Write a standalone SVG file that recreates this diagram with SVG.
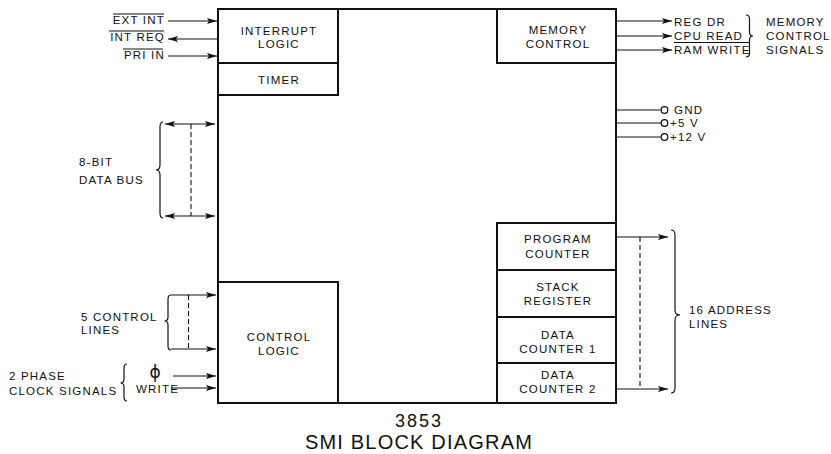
<svg xmlns="http://www.w3.org/2000/svg" width="831" height="454" viewBox="0 0 831 454">
<defs>
<marker id="ah" viewBox="0 0 10 6" refX="10" refY="3" markerWidth="10" markerHeight="6" markerUnits="userSpaceOnUse" orient="auto-start-reverse">
<path d="M0,0 L10,3 L0,6 L2,3 Z" fill="#111"/>
</marker>
</defs>
<style>
.box{fill:#fff;stroke:#111;stroke-width:2}
.inner{fill:none;stroke:#111;stroke-width:2}
.t{font-family:"Liberation Sans",Arial,sans-serif;font-size:11.5px;letter-spacing:1.2px;fill:#111}
.c{text-anchor:middle}
.e{text-anchor:end}
.w{fill:none;stroke:#111;stroke-width:1.2}
.a{fill:none;stroke:#111;stroke-width:1.2;marker-end:url(#ah)}
.ab{fill:none;stroke:#111;stroke-width:1.2;marker-end:url(#ah);marker-start:url(#ah)}
.d{fill:none;stroke:#111;stroke-width:1.1;stroke-dasharray:5 3}
.br{fill:none;stroke:#111;stroke-width:1.2}
.ob{stroke:#111;stroke-width:1}
.title{font-family:"Liberation Sans",Arial,sans-serif;fill:#111;text-anchor:middle}
</style>
<rect width="831" height="454" fill="#fff"/>

<g id="chip">
<rect class="box" x="218" y="9" width="398" height="394"/>
</g>
<g id="interrupt-logic">
<rect class="inner" x="218" y="9" width="120" height="54"/>
<text class="t c" x="279" y="35">INTERRUPT</text>
<text class="t c" x="279" y="48">LOGIC</text>
</g>
<g id="timer">
<rect class="inner" x="218" y="63" width="120" height="32"/>
<text class="t c" x="279" y="84">TIMER</text>
</g>
<g id="memory-control">
<rect class="inner" x="497" y="9" width="119" height="54"/>
<text class="t c" x="558" y="34">MEMORY</text>
<text class="t c" x="558" y="48">CONTROL</text>
</g>
<g id="control-logic">
<rect class="inner" x="218" y="282" width="120" height="121"/>
<text class="t c" x="279" y="341">CONTROL</text>
<text class="t c" x="279" y="355">LOGIC</text>
</g>
<g id="program-counter">
<rect class="inner" x="497" y="223" width="119" height="47"/>
<text class="t c" x="558" y="243">PROGRAM</text>
<text class="t c" x="558" y="258">COUNTER</text>
</g>
<g id="stack-register">
<rect class="inner" x="497" y="270" width="119" height="47"/>
<text class="t c" x="558" y="291">STACK</text>
<text class="t c" x="558" y="305">REGISTER</text>
</g>
<g id="data-counter-1">
<rect class="inner" x="497" y="317" width="119" height="46"/>
<text class="t c" x="558" y="339">DATA</text>
<text class="t c" x="558" y="353">COUNTER 1</text>
</g>
<g id="data-counter-2">
<rect class="inner" x="497" y="363" width="119" height="40"/>
<text class="t c" x="558" y="379">DATA</text>
<text class="t c" x="558" y="393">COUNTER 2</text>
</g>

<g id="connectors">
<line class="a" x1="168" y1="21" x2="217" y2="21"/>
<line class="a" x1="217" y1="39" x2="168" y2="39"/>
<line class="a" x1="168" y1="56" x2="217" y2="56"/>
<line class="a" x1="616" y1="21" x2="672" y2="21"/>
<line class="a" x1="616" y1="36" x2="672" y2="36"/>
<line class="a" x1="616" y1="50" x2="672" y2="50"/>
<line class="w" x1="616" y1="110" x2="661" y2="110"/>
<line class="w" x1="616" y1="123" x2="661" y2="123"/>
<line class="w" x1="616" y1="137" x2="661" y2="137"/>
<circle class="w" cx="664.5" cy="110" r="3.3"/>
<circle class="w" cx="664.5" cy="123" r="3.3"/>
<circle class="w" cx="664.5" cy="137" r="3.3"/>
<line class="ab" x1="165" y1="124" x2="215" y2="124"/>
<line class="ab" x1="165" y1="216" x2="215" y2="216"/>
<line class="d" x1="191" y1="124" x2="191" y2="216"/>
<line class="a" x1="171" y1="295" x2="216" y2="295"/>
<line class="a" x1="171" y1="349" x2="216" y2="349"/>
<line class="d" x1="188.5" y1="295" x2="188.5" y2="349"/>
<line class="a" x1="173" y1="376" x2="216" y2="376"/>
<line class="a" x1="171" y1="388" x2="216" y2="388"/>
<line class="a" x1="616" y1="237" x2="668" y2="237"/>
<line class="a" x1="616" y1="389" x2="668" y2="389"/>
<line class="d" x1="640" y1="237" x2="640" y2="389"/>
</g>

<g id="braces">
<path class="br" d="M746,15 Q749.5,15 749.5,19 L749.5,32 Q749.5,36 753,36 Q749.5,36 749.5,40 L749.5,53 Q749.5,57 746,57"/>
<path class="br" d="M163,122 Q160,122 160,127 L160,165 Q160,170 156,170 Q160,170 160,175 L160,213 Q160,218 163,218"/>
<path class="br" d="M171,295 Q168,295 168,299 L168,317 Q168,321 164.5,321 Q168,321 168,325 L168,346 Q168,350 171,350"/>
<path class="br" d="M127,364 Q124,364 124,368 L124,379 Q124,383 120.5,383 Q124,383 124,387 L124,397 Q124,401 127,401"/>
<path class="br" d="M671,230 Q675,230 675,235 L675,310 Q675,315 680,315 Q675,315 675,320 L675,388 Q675,393 671,393"/>
</g>

<g id="labels">
<text class="t e" x="165" y="24">EXT INT</text>
<line class="ob" x1="113" y1="14" x2="164" y2="14"/>
<text class="t e" x="165" y="41">INT REQ</text>
<line class="ob" x1="109" y1="31" x2="164" y2="31"/>
<text class="t e" x="165" y="59">PRI IN</text>
<line class="ob" x1="123" y1="49" x2="163" y2="49"/>

<text class="t" x="674" y="26">REG DR</text>
<text class="t" x="674" y="40">CPU READ</text>
<text class="t" x="674" y="54">RAM WRITE</text>
<line class="ob" x1="674" y1="42.5" x2="749" y2="42.5"/>
<text class="t" x="766" y="26">MEMORY</text>
<text class="t" x="766" y="40">CONTROL</text>
<text class="t" x="766" y="54">SIGNALS</text>

<text class="t" x="674" y="114">GND</text>
<text class="t" x="670" y="127">+5 V</text>
<text class="t" x="670" y="141">+12 V</text>

<text class="t" x="79" y="166">8-BIT</text>
<text class="t" x="79" y="184">DATA BUS</text>

<text class="t" x="81" y="321">5 CONTROL</text>
<text class="t" x="81" y="334">LINES</text>

<text x="155" y="378" style="font-family:'DejaVu Sans',sans-serif;font-size:17px;fill:#111;text-anchor:middle">ϕ</text>
<text class="t" x="136" y="393">WRITE</text>
<text class="t" x="9" y="380">2 PHASE</text>
<text class="t" x="9" y="395">CLOCK SIGNALS</text>

<text class="t" x="689" y="314">16 ADDRESS</text>
<text class="t" x="689" y="328">LINES</text>

<text class="title" x="419" y="427" style="font-size:18px;letter-spacing:2px">3853</text>
<text class="title" x="419" y="449" style="font-size:20px;letter-spacing:1.2px">SMI BLOCK DIAGRAM</text>
</g>
</svg>
